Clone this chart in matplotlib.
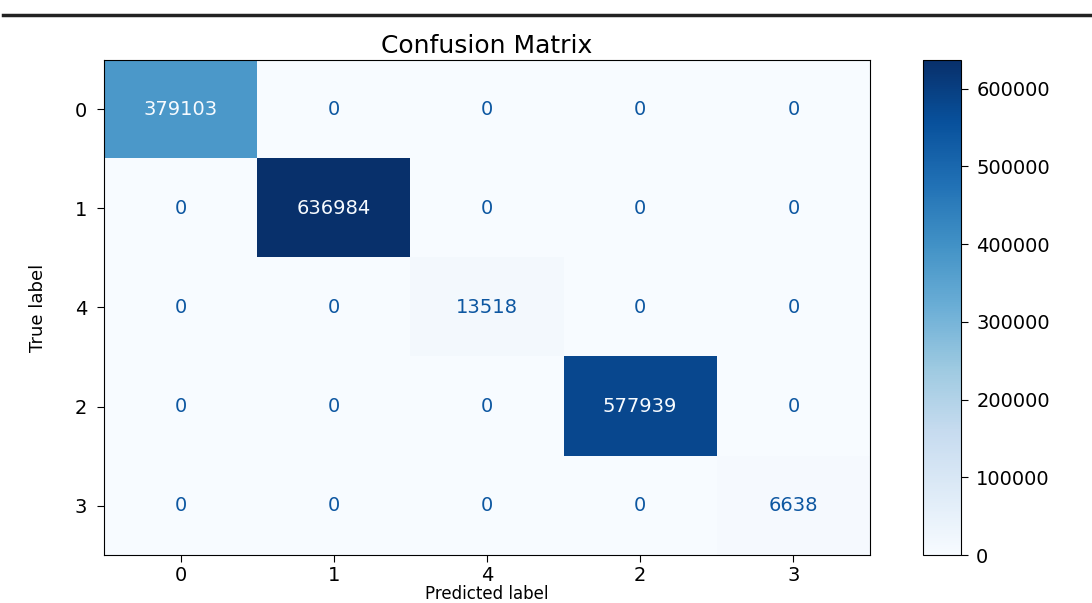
import numpy as np
import matplotlib
matplotlib.use('Agg')
import matplotlib.pyplot as plt
from matplotlib.lines import Line2D

# class order as shown on both axes
labels = ['0', '1', '4', '2', '3']
# confusion matrix values (rows = true, cols = predicted)
cm = np.array([[379103, 0, 0, 0, 0],
               [0, 636984, 0, 0, 0],
               [0, 0, 13518, 0, 0],
               [0, 0, 0, 577939, 0],
               [0, 0, 0, 0, 6638]])
cbar_ticks = [0, 100000, 200000, 300000, 400000, 500000, 600000]

fig = plt.figure(figsize=(10.92, 6.03), dpi=100)
ax = fig.add_axes([0.0952, 0.0796, 0.7015, 0.8209])
cax = fig.add_axes([0.8452, 0.0796, 0.0348, 0.8209])

cmap = plt.get_cmap('Blues')
im = ax.imshow(cm, cmap=cmap, aspect='auto', interpolation='nearest',
               vmin=cm.min(), vmax=cm.max())

# text colour like sklearn's ConfusionMatrixDisplay
thresh = (cm.max() + cm.min()) / 2.0
for i in range(cm.shape[0]):
    for j in range(cm.shape[1]):
        c = cmap(0) if cm[i, j] > thresh else cmap(0.85)
        ax.text(j, i, str(cm[i, j]), ha='center', va='center', color=c, fontsize=14)

ax.set_xticks(range(len(labels)))
ax.set_xticklabels(labels, fontsize=14)
ax.set_yticks(range(len(labels)))
ax.set_yticklabels(labels, fontsize=14)
ax.tick_params(length=5)
ax.tick_params(axis='x', pad=3)
ax.tick_params(axis='y', pad=7)
ax.set_xlabel('Predicted label', fontsize=12, labelpad=0)
ax.set_ylabel('True label', fontsize=13, labelpad=20)
ax.set_title('Confusion Matrix', fontsize=18, pad=5)

cb = fig.colorbar(im, cax=cax)
cb.set_ticks(cbar_ticks)
cb.ax.tick_params(labelsize=14, length=5, pad=6)

# dark rule across the top of the screenshot
fig.add_artist(Line2D([0.003, 1.0], [0.975, 0.975], transform=fig.transFigure,
                      color='#222222', linewidth=2.5))

fig.savefig('out.png', dpi=100)
